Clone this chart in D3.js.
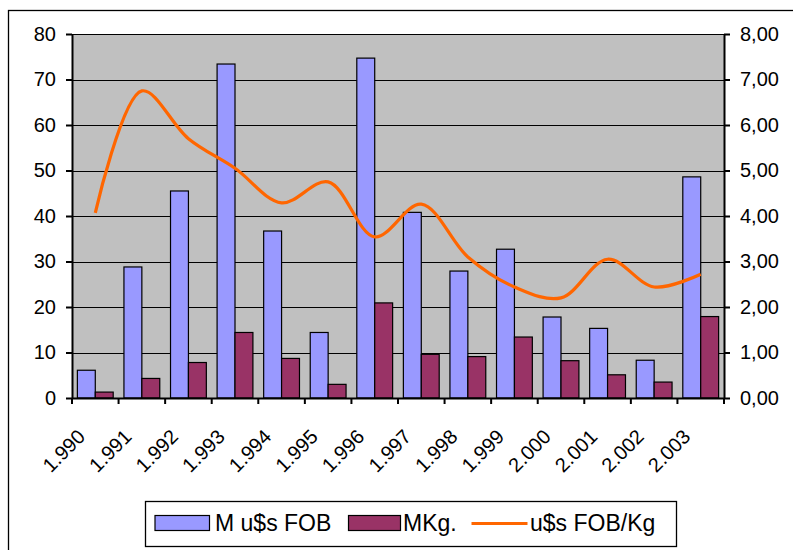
<!DOCTYPE html>
<html>
<head>
<meta charset="utf-8">
<script src="https://cdn.jsdelivr.net/npm/d3@7"></script>
<style>
  body { margin: 0; background: #fff; }
  svg { display: block; font-family: "Liberation Sans", Arial, sans-serif; }
</style>
</head>
<body>
<div id="vis"></div>
<script>
// data
var years = ['1.990', '1.991', '1.992', '1.993', '1.994', '1.995', '1.996',
  '1.997', '1.998', '1.999', '2.000', '2.001', '2.002', '2.003'];
var fobMillions = [6.1, 28.8, 45.5, 73.4, 36.7, 14.4, 74.7, 40.8, 27.9, 32.7, 17.8, 15.3, 8.3, 48.6];
var kgMillions = [1.3, 4.3, 7.8, 14.4, 8.7, 3.0, 20.9, 9.6, 9.1, 13.4, 8.2, 5.1, 3.5, 17.9];
var fobPerKg = [4.07, 6.75, 5.70, 5.05, 4.29, 4.75, 3.54, 4.26, 3.10, 2.44, 2.20, 3.05, 2.44, 2.72];
var seriesNames = ['M u$s FOB', 'MKg.', 'u$s FOB/Kg'];
var colors = ['#9999FF', '#993366', '#FF6600'];

var width = 793, height = 550;
var margin = { top: 34, left: 72, right: 69, bottom: 152 };
var plotW = width - margin.left - margin.right;
var plotH = height - margin.top - margin.bottom;

var svg = d3.select('#vis').append('svg')
  .attr('width', width)
  .attr('height', height);

// outer chart frame (runs off the right and bottom edge)
svg.append('rect')
  .attr('x', 8.5).attr('y', 10.5)
  .attr('width', 820).attr('height', 600)
  .attr('fill', 'none').attr('stroke', '#000').attr('stroke-width', 1.3);

var g = svg.append('g')
  .attr('transform', 'translate(' + margin.left + ',' + margin.top + ')');

var x = d3.scaleBand().domain(years).range([0, plotW]);
var yL = d3.scaleLinear().domain([0, 80]).range([plotH, 0]);
var yR = d3.scaleLinear().domain([0, 8]).range([plotH, 0]);

var bw = x.bandwidth() / 2.6;   // excel gap width 60%
var off = bw * 0.3;

g.append('rect')
  .attr('width', plotW).attr('height', plotH)
  .attr('fill', '#C0C0C0');

// gridlines
g.append('g').selectAll('line')
  .data(yL.ticks(8).filter(function(d) { return d > 0; }))
  .enter().append('line')
  .attr('x1', 0).attr('x2', plotW)
  .attr('y1', function(d) { return Math.round(yL(d)) + 0.5; })
  .attr('y2', function(d) { return Math.round(yL(d)) + 0.5; })
  .attr('stroke', '#000').attr('stroke-width', 1.2);

// bars
g.append('g').selectAll('rect')
  .data(fobMillions)
  .enter().append('rect')
  .attr('x', function(d, i) { return x(years[i]) + off; })
  .attr('y', function(d) { return yL(d); })
  .attr('width', bw)
  .attr('height', function(d) { return plotH - yL(d); })
  .attr('fill', colors[0]).attr('stroke', '#000').attr('stroke-width', 1.2);

g.append('g').selectAll('rect')
  .data(kgMillions)
  .enter().append('rect')
  .attr('x', function(d, i) { return x(years[i]) + off + bw; })
  .attr('y', function(d) { return yL(d); })
  .attr('width', bw)
  .attr('height', function(d) { return plotH - yL(d); })
  .attr('fill', colors[1]).attr('stroke', '#000').attr('stroke-width', 1.2);

// smoothed price line
var line = d3.line()
  .x(function(d, i) { return x(years[i]) + x.bandwidth() / 2; })
  .y(function(d) { return yR(d); })
  .curve(d3.curveCatmullRom.alpha(0.5));

g.append('path')
  .datum(fobPerKg)
  .attr('d', line)
  .attr('fill', 'none')
  .attr('stroke', colors[2])
  .attr('stroke-width', 3.2)
  .attr('stroke-linejoin', 'round');

// axes
var commaFmt = d3.formatLocale({ decimal: ',', thousands: '.', grouping: [3], currency: ['', ''] }).format('.2f');

var left = g.append('g')
  .call(d3.axisLeft(yL).ticks(8).tickSize(6).tickPadding(10).tickSizeOuter(0));
var right = g.append('g')
  .attr('transform', 'translate(' + plotW + ',0)')
  .call(d3.axisRight(yR).ticks(8).tickFormat(commaFmt).tickSize(6).tickPadding(10).tickSizeOuter(0));
var bottom = g.append('g')
  .attr('transform', 'translate(0,' + plotH + ')')
  .call(d3.axisBottom(x).tickSize(0).tickFormat(''));

[left, right, bottom].forEach(function(a) {
  a.selectAll('path').attr('stroke', '#000').attr('stroke-width', 2);
  a.selectAll('line').attr('stroke', '#000').attr('stroke-width', 2);
  a.selectAll('text').attr('fill', '#000').style('font-size', '20px');
});

// category separator ticks on x axis
g.append('g').selectAll('line')
  .data(years.concat(['end']))
  .enter().append('line')
  .attr('x1', function(d, i) { return i * x.step(); })
  .attr('x2', function(d, i) { return i * x.step(); })
  .attr('y1', plotH).attr('y2', plotH + 6)
  .attr('stroke', '#000').attr('stroke-width', 2);

// rotated year labels
g.append('g').selectAll('text')
  .data(years)
  .enter().append('text')
  .attr('transform', function(d) {
    return 'translate(' + (x(d) + x.bandwidth() / 2 - 9) + ',' + (plotH + 40) + ') rotate(-45)';
  })
  .attr('text-anchor', 'end')
  .style('font-size', '20px')
  .text(function(d) { return d; });

// legend
var lg = svg.append('g').attr('transform', 'translate(145.5,501.5)');
lg.append('rect')
  .attr('width', 531).attr('height', 45)
  .attr('fill', '#fff').attr('stroke', '#000').attr('stroke-width', 1.3);

var legendX = [9.5, 203, 326];
var legendW = [54.5, 52, 56];
var textX = [69.5, 257.5, 384.5];
seriesNames.forEach(function(name, i) {
  if (i < 2) {
    lg.append('rect')
      .attr('x', legendX[i]).attr('y', 14)
      .attr('width', legendW[i]).attr('height', 15)
      .attr('fill', colors[i]).attr('stroke', '#000').attr('stroke-width', 1.2);
  } else {
    lg.append('line')
      .attr('x1', legendX[i]).attr('x2', legendX[i] + legendW[i])
      .attr('y1', 22).attr('y2', 22)
      .attr('stroke', colors[i]).attr('stroke-width', 3.2);
  }
  lg.append('text')
    .attr('x', textX[i]).attr('y', 29.5)
    .style('font-size', '23px')
    .text(name);
});
</script>
</body>
</html>
